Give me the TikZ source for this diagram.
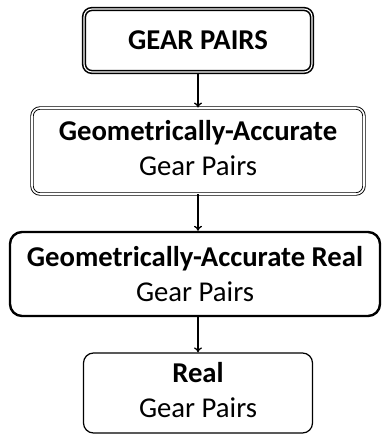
\documentclass[tikz,border=0pt]{standalone}
\usepackage{fontspec}
\setmainfont{Carlito}
\usetikzlibrary{arrows.meta}
\begin{document}
\begin{tikzpicture}[x=1pt,y=-1pt,
  boxbase/.style={draw=black, align=center, inner sep=0pt,
    font=\fontsize{28.7}{35}\selectfont},
  boxone/.style={boxbase, line width=1.6pt, double=white, double distance=1.1pt,
    rounded corners=8pt, minimum width=228pt, minimum height=63pt},
  boxtwo/.style={boxbase, line width=0.9pt, double=white, double distance=1.6pt,
    rounded corners=8pt, minimum width=332pt, minimum height=86pt},
  boxthree/.style={boxbase, line width=2.4pt, rounded corners=12pt,
    minimum width=370pt, minimum height=84pt},
  boxfour/.style={boxbase, line width=1.2pt, rounded corners=10pt,
    minimum width=229pt, minimum height=80pt},
  link/.style={draw=black, line width=1.3pt, -{To[length=5pt,width=8pt]}}]
\useasboundingbox (0,0) rectangle (382,436);
\node[boxone] (a) at (198,40.5) {\raisebox{-4pt}{\textbf{GEAR PAIRS}}};
\node[boxtwo] (b) at (198,151) {\raisebox{-4pt}{\begin{tabular}{@{}c@{}}\textbf{Geometrically-Accurate}\\Gear Pairs\end{tabular}}};
\node[boxthree] (c) at (195,274) {\textbf{Geometrically-Accurate Real}\\Gear Pairs};
\node[boxfour] (d) at (198,393) {\raisebox{-3pt}{\begin{tabular}{@{}c@{}}\textbf{Real}\\Gear Pairs\end{tabular}}};
\draw[link] (a.south -| 198,0) -- (b.north -| 198,0);
\draw[link] (b.south -| 198,0) -- (c.north -| 198,0);
\draw[link] (c.south -| 198,0) -- (d.north -| 198,0);
\end{tikzpicture}
\end{document}
